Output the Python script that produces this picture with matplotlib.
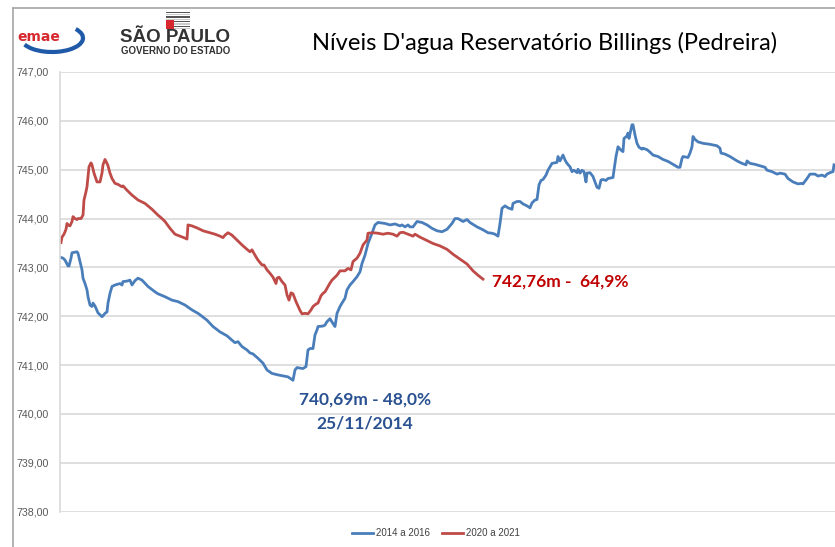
import numpy as np
import matplotlib
matplotlib.use("Agg")
import matplotlib.pyplot as plt
from matplotlib.patches import Rectangle, Arc
from matplotlib.lines import Line2D
from matplotlib.ticker import FuncFormatter

# ======================= dados =======================
# dia (posicao no eixo) e nivel (m)
dias_2014 = [0, 3, 5, 8, 9, 11, 12, 17, 18, 20, 22, 23, 25, 27, 28, 30, 32, 33, 35, 38,
             42, 43, 45, 47, 48, 50, 52, 55, 60, 62, 63, 67, 70, 72, 75, 78, 82, 88, 95, 98,
             105, 112, 118, 125, 132, 138, 140, 147, 153, 160, 167, 172, 175, 178, 182, 187, 190, 193, 198, 203,
             207, 212, 218, 223, 228, 233, 235, 237, 243, 246, 247, 248, 250, 253, 255, 257, 258, 263, 265, 267,
             270, 273, 275, 277, 280, 282, 285, 287, 290, 293, 297, 300, 302, 305, 308, 312, 315, 318, 325, 330,
             335, 340, 342, 345, 348, 350, 353, 357, 362, 367, 372, 377, 382, 387, 392, 395, 398, 403, 407, 410,
             417, 423, 428, 432, 435, 438, 440, 442, 445, 448, 452, 453, 457, 460, 463, 467, 470, 472, 475, 477,
             479, 481, 483, 486, 488, 492, 497, 498, 500, 503, 505, 507, 510, 512, 514, 517, 518, 520, 522, 524,
             526, 527, 530, 533, 535, 537, 539, 541, 543, 546, 548, 553, 554, 556, 558, 561, 563, 564, 567, 568,
             569, 572, 573, 575, 577, 579, 582, 583, 587, 590, 593, 598, 603, 608, 613, 618, 620, 622, 623, 628,
             630, 632, 633, 635, 638, 643, 650, 657, 660, 661, 665, 670, 677, 682, 686, 687, 690, 695, 700, 705,
             707, 712, 717, 720, 725, 728, 733, 738, 742, 743, 747, 750, 755, 758, 762, 765, 767, 770, 773, 774]
nivel_2014 = [743.21, 743.19, 743.15, 743.03, 743.03, 743.19, 743.30, 743.32, 743.29, 743.12, 742.95, 742.78, 742.67, 742.54, 742.40, 742.23, 742.20, 742.27, 742.21, 742.07,
              741.99, 742.01, 742.06, 742.09, 742.27, 742.47, 742.61, 742.64, 742.67, 742.64, 742.71, 742.72, 742.74, 742.64, 742.73, 742.78, 742.74, 742.61, 742.50, 742.46,
              742.40, 742.33, 742.30, 742.23, 742.13, 742.06, 742.03, 741.92, 741.79, 741.68, 741.60, 741.51, 741.46, 741.48, 741.38, 741.31, 741.25, 741.23, 741.14, 741.04,
              740.90, 740.83, 740.80, 740.78, 740.76, 740.69, 740.90, 740.95, 740.93, 740.97, 741.15, 741.31, 741.34, 741.34, 741.62, 741.72, 741.79, 741.80, 741.82, 741.89,
              741.95, 741.85, 741.79, 742.06, 742.20, 742.27, 742.37, 742.54, 742.64, 742.71, 742.81, 742.91, 743.08, 743.25, 743.49, 743.70, 743.87, 743.92, 743.90, 743.87,
              743.89, 743.85, 743.87, 743.83, 743.87, 743.83, 743.83, 743.94, 743.92, 743.87, 743.80, 743.75, 743.73, 743.78, 743.90, 744.00, 744.00, 743.94, 743.98, 743.92,
              743.83, 743.77, 743.71, 743.70, 743.68, 743.64, 743.90, 744.21, 744.26, 744.22, 744.19, 744.31, 744.35, 744.35, 744.30, 744.26, 744.22, 744.32, 744.38, 744.39,
              744.69, 744.78, 744.80, 744.89, 744.99, 745.13, 745.15, 745.27, 745.18, 745.30, 745.20, 745.13, 745.06, 744.96, 744.99, 744.94, 745.01, 744.93, 744.99, 744.96,
              744.75, 744.93, 744.94, 744.86, 744.75, 744.64, 744.62, 744.79, 744.80, 744.78, 744.82, 744.84, 744.99, 745.27, 745.47, 745.40, 745.37, 745.64, 745.69, 745.75,
              745.64, 745.92, 745.92, 745.71, 745.54, 745.46, 745.42, 745.44, 745.41, 745.36, 745.30, 745.27, 745.21, 745.17, 745.11, 745.05, 745.05, 745.23, 745.27, 745.25,
              745.34, 745.47, 745.68, 745.62, 745.57, 745.54, 745.52, 745.49, 745.44, 745.34, 745.32, 745.27, 745.18, 745.13, 745.10, 745.18, 745.13, 745.11, 745.08, 745.05,
              744.99, 744.96, 744.91, 744.93, 744.91, 744.82, 744.75, 744.71, 744.72, 744.71, 744.82, 744.91, 744.91, 744.87, 744.89, 744.86, 744.91, 744.94, 744.96, 745.10]

dias_2020 = [1, 2, 4, 6, 7, 8, 10, 12, 13, 15, 17, 18, 21, 23, 24, 26, 27, 28, 29, 31,
             32, 34, 37, 40, 42, 43, 45, 47, 48, 50, 52, 55, 58, 62, 63, 67, 72, 78, 85, 92,
             98, 102, 105, 110, 115, 120, 125, 127, 128, 132, 138, 143, 150, 155, 160, 163, 165, 168, 172, 177,
             182, 187, 190, 192, 195, 198, 202, 204, 207, 210, 213, 216, 217, 219, 222, 225, 227, 229, 231, 233,
             236, 238, 240, 242, 245, 248, 251, 253, 256, 258, 261, 263, 265, 268, 270, 272, 277, 280, 285, 288,
             291, 293, 297, 300, 303, 307, 308, 313, 318, 323, 328, 333, 337, 340, 343, 348, 353, 355, 360, 367,
             373, 380, 387, 393, 400, 407, 410, 413, 418, 423]
nivel_2020 = [743.51, 743.62, 743.68, 743.78, 743.90, 743.87, 743.85, 743.94, 744.04, 744.00, 743.98, 744.00, 744.00, 744.07, 744.38, 744.55, 744.65, 744.86, 745.06, 745.14,
              745.10, 744.93, 744.75, 744.75, 744.93, 745.10, 745.21, 745.13, 745.08, 744.93, 744.82, 744.72, 744.70, 744.65, 744.67, 744.58, 744.48, 744.38, 744.31, 744.19,
              744.07, 744.00, 743.94, 743.80, 743.68, 743.64, 743.60, 743.58, 743.87, 743.85, 743.80, 743.75, 743.71, 743.68, 743.64, 743.61, 743.66, 743.71, 743.66, 743.56,
              743.46, 743.37, 743.32, 743.36, 743.25, 743.15, 743.05, 743.05, 742.95, 742.88, 742.80, 742.67, 742.78, 742.80, 742.71, 742.64, 742.44, 742.33, 742.48, 742.46,
              742.30, 742.21, 742.12, 742.05, 742.06, 742.05, 742.13, 742.20, 742.25, 742.27, 742.42, 742.47, 742.50, 742.61, 742.68, 742.74, 742.84, 742.93, 742.93, 742.98,
              742.95, 743.12, 743.19, 743.29, 743.46, 743.56, 743.70, 743.71, 743.70, 743.68, 743.70, 743.68, 743.64, 743.71, 743.72, 743.68, 743.64, 743.68, 743.62, 743.55,
              743.49, 743.44, 743.37, 743.27, 743.17, 743.07, 743.00, 742.93, 742.84, 742.76]

yticks = [738, 739, 740, 741, 742, 743, 744, 745, 746, 747]
serie_nomes = ["2014 a 2016", "2020 a 2021"]
titulo = "Níveis D'agua Reservatório Billings (Pedreira)"
txt_min = ["740,69m - 48,0%", "25/11/2014"]
txt_atual = "742,76m -  64,9%"

azul = "#4A7EBB"
vermelho = "#BE4B48"

#========================== Figura =========================
W, H = 835, 547
fig = plt.figure(figsize=(W / 100, H / 100), dpi=100)
fx = lambda px: px / W
fy = lambda py: 1 - py / H

# moldura cinza
fig.add_artist(Line2D([fx(13), 1], [fy(8), fy(8)], color="#A6A6A6", lw=1.2))
fig.add_artist(Line2D([fx(13), fx(13)], [fy(8), 0], color="#A6A6A6", lw=1.2))

ax = fig.add_axes([fx(60), fy(511.7), 1 - fx(60), fy(72) - fy(511.7)])
ax.plot(dias_2014, nivel_2014, color=azul, lw=2.0, label=serie_nomes[0])
ax.plot(dias_2020, nivel_2020, color=vermelho, lw=2.0, label=serie_nomes[1])

ax.set_ylim(738, 747)
ax.set_xlim(0, 775)
ax.set_yticks(yticks)
ax.yaxis.set_major_formatter(FuncFormatter(lambda v, p: f"{v:.2f}".replace(".", ",")))
ax.set_xticks([])
ax.grid(axis="y", color="#D9D9D9", lw=1.2)
ax.set_axisbelow(True)
for s in ["top", "right", "bottom"]:
    ax.spines[s].set_visible(False)
ax.spines["left"].set_color("#D9D9D9")
ax.spines["left"].set_linewidth(1.2)
ax.tick_params(axis="y", length=0, pad=8, labelsize=7.7, labelcolor="#595959")
for t in ax.get_yticklabels():
    t.set_family(["Liberation Sans Narrow", "Liberation Sans"])

# textos
fig.text(fx(545), fy(43), titulo, ha="center", va="center", fontsize=17, family="Lato", color="#000000")
ax.text(305, 740.29, txt_min[0], ha="center", va="center", fontsize=12.5, family="Lato",
        fontweight="bold", color="#2A5191")
ax.text(305, 739.81, txt_min[1], ha="center", va="center", fontsize=12.5, family="Lato",
        fontweight="bold", color="#2A5191")
ax.text(432, 742.72, txt_atual, ha="left", va="center", fontsize=12.5, family="Lato",
        fontweight="bold", color="#C00000")

leg = fig.legend(loc="center", bbox_to_anchor=(fx(436), fy(533)), ncol=2, frameon=False,
                 fontsize=7, handlelength=2.2, columnspacing=1.2, handletextpad=0.3)
for t in leg.get_texts():
    t.set_color("#404040")
    t.set_family(["Liberation Sans Narrow", "Liberation Sans"])

# logos (aproximacao)
fig.add_artist(Arc((fx(52), fy(38)), fx(62), (28 / H), theta1=200, theta2=30, color="#1F5AA8", lw=3))
fig.text(fx(17), fy(37), "emae", ha="left", va="center", fontsize=10, fontweight="bold", color="#D7282F")
fig.text(fx(120), fy(38), "SÃO PAULO", ha="left", va="center", fontsize=13.5, fontweight="bold", color="#333333",
         family="Liberation Sans")
fig.text(fx(121), fy(51), "GOVERNO DO ESTADO", ha="left", va="center", fontsize=7, fontweight="bold", color="#333333",
         family="Liberation Sans")
for i in range(8):
    fig.add_artist(Rectangle((fx(166), fy(13 + i * 2.3)), fx(24), 1.3 / H,
                             color="#555555" if i % 2 == 0 else "#CCCCCC", lw=0))
fig.add_artist(Rectangle((fx(166), fy(29)), fx(8), 9 / H, color="#D7282F", lw=0))

fig.savefig("out.png", dpi=100)
